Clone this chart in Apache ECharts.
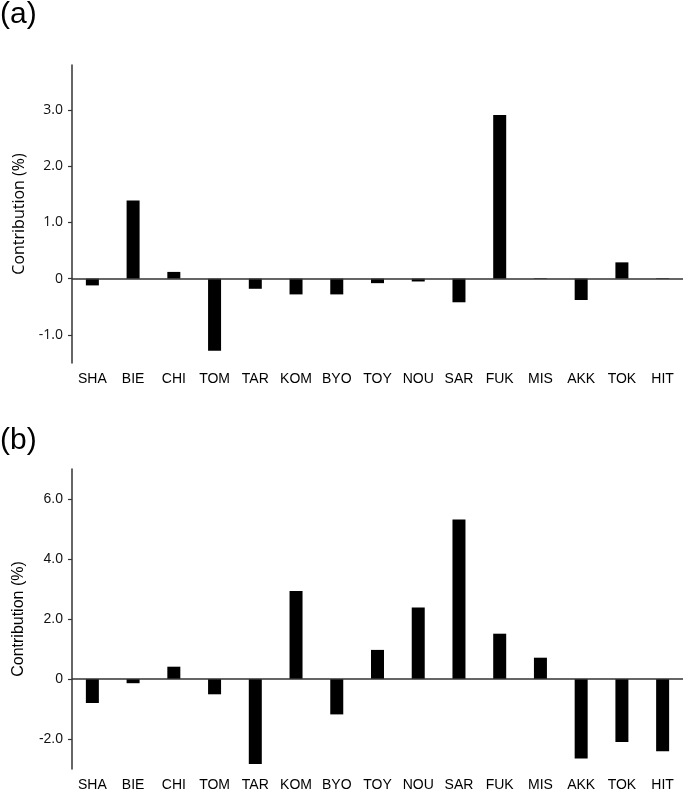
<!DOCTYPE html>
<html>
<head>
<meta charset="utf-8">
<script src="https://cdn.jsdelivr.net/npm/echarts@6/dist/echarts.min.js"></script>
<style>html,body{margin:0;padding:0;background:#fff}#c{width:685px;height:792px}</style>
</head>
<body>
<div id="c"></div>
<script>
const categories = ['SHA','BIE','CHI','TOM','TAR','KOM','BYO','TOY','NOU','SAR','FUK','MIS','AKK','TOK','HIT'];
const valuesA = [-0.12, 1.39, 0.12, -1.28, -0.18, -0.28, -0.28, -0.08, -0.05, -0.42, 2.91, 0.01, -0.38, 0.29, 0.01];
const valuesB = [-0.80, -0.14, 0.41, -0.51, -2.83, 2.93, -1.18, 0.97, 2.38, 5.32, 1.51, 0.71, -2.65, -2.10, -2.41];
const ticksA = [-1, 0, 1, 2, 3];
const ticksB = [-2, 0, 2, 4, 6];
const yNameText = 'Contribution (%)';
const panelLabels = ['(a)', '(b)'];

const chart = echarts.init(document.getElementById('c'), null, {renderer: 'canvas'});
const fmt = v => (Math.abs(v) < 1e-9 ? '0' : v.toFixed(1));
function xAxis(idx) {
  return {
    gridIndex: idx, type: 'category', data: categories, boundaryGap: true,
    axisLine: {show: false, onZero: false}, axisTick: {show: false},
    axisLabel: {color: '#000', fontSize: 14, fontFamily: 'Liberation Sans', margin: 9, interval: 0}
  };
}
function yAxis(idx, min, max, ticks, font) {
  return {
    gridIndex: idx, type: 'value', min: min, max: max,
    name: yNameText, nameLocation: 'middle', nameGap: 45,
    nameTextStyle: {color: '#000', fontSize: 16, fontFamily: font},
    axisLine: {show: true, lineStyle: {color: '#333', width: 1.5}},
    axisTick: {show: true, length: 4, customValues: ticks, lineStyle: {color: '#333', width: 1.2}},
    axisLabel: {customValues: ticks, formatter: fmt, color: '#111', fontSize: 14, fontFamily: font, margin: 9},
    splitLine: {show: false}
  };
}
function series(idx, data) {
  return {
    type: 'bar', xAxisIndex: idx, yAxisIndex: idx, data: data, barWidth: 13,
    itemStyle: {color: '#000'}, silent: true,
    markLine: {silent: true, symbol: 'none', label: {show: false},
      lineStyle: {color: '#333', width: 1.5, type: 'solid'}, data: [{yAxis: 0}], animation: false},
    animation: false
  };
}
chart.setOption({
  animation: false,
  grid: [
    {left: 72, right: 2, top: 65, height: 298},
    {left: 72, right: 2, top: 469, height: 304}
  ],
  xAxis: [xAxis(0), xAxis(1)],
  yAxis: [yAxis(0, -1.5, 3.8, ticksA, 'Open Sans'), yAxis(1, -3, 7, ticksB, 'Liberation Sans')],
  series: [series(0, valuesA), series(1, valuesB)],
  graphic: [
    {type: 'text', left: 0, top: 0, style: {text: panelLabels[0], fontSize: 30, fontFamily: 'Liberation Sans', fill: '#000'}},
    {type: 'text', left: 0, top: 426, style: {text: panelLabels[1], fontSize: 30, fontFamily: 'Liberation Sans', fill: '#000'}}
  ]
});
</script>
</body>
</html>
